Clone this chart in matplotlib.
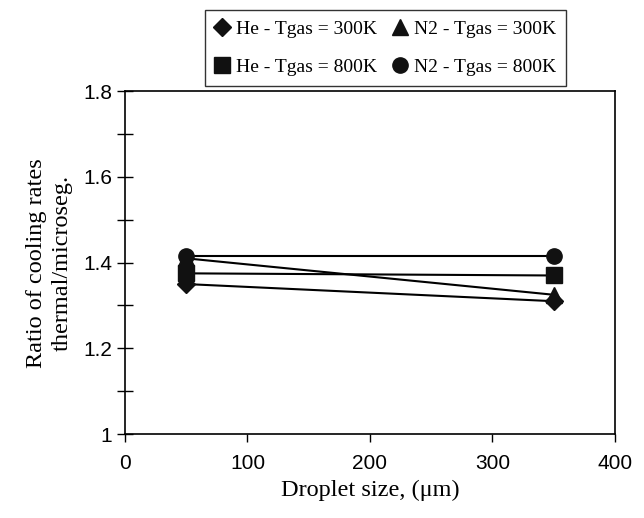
import matplotlib
matplotlib.use('Agg')
import matplotlib.pyplot as plt
from matplotlib.ticker import MultipleLocator

# droplet sizes (um)
sizes = [50, 350]

# ratio of cooling rates, thermal / microsegregation
he_300 = [1.35, 1.31]
he_800 = [1.375, 1.37]
n2_300 = [1.41, 1.325]
n2_800 = [1.415, 1.415]

labels = ['He - Tgas = 300K', 'He - Tgas = 800K',
          'N2 - Tgas = 300K', 'N2 - Tgas = 800K']
markers = ['D', 's', '^', 'o']

fig = plt.figure(figsize=(6.44, 5.18), dpi=100)
ax = fig.add_axes([0.194, 0.162, 0.761, 0.662])

series = [he_300, he_800, n2_300, n2_800]
handles = []
for vals, lab, mk in zip(series, labels, markers):
    ms = 9 if mk == 'D' else 11
    h, = ax.plot(sizes, vals, color='black', linewidth=1.5, marker=mk,
                 markersize=ms, markerfacecolor='#111111', markeredgecolor='#111111',
                 label=lab)
    handles.append(h)

ax.set_xlim(0, 400)
ax.set_ylim(1.0, 1.8)
ax.xaxis.set_major_locator(MultipleLocator(100))
ax.yaxis.set_minor_locator(MultipleLocator(0.1))
ax.set_yticks([1.0, 1.2, 1.4, 1.6, 1.8])
ax.set_yticklabels(['1', '1.2', '1.4', '1.6', '1.8'])

# tick labels in a sans face, the rest in serif, like the original
for lbl in ax.get_xticklabels() + ax.get_yticklabels():
    lbl.set_fontfamily('Liberation Sans')
    lbl.set_fontsize(15)
ax.tick_params(axis='x', direction='out', length=6, width=1, pad=8)
ax.tick_params(axis='y', which='both', direction='inout', length=12, width=1, pad=3)
for sp in ax.spines.values():
    sp.set_linewidth(1.2)

ax.set_xlabel('Droplet size, (\u03bcm)', family='Liberation Serif', fontsize=17.5, labelpad=5)
ax.set_ylabel('Ratio of cooling rates\nthermal/microseg.', family='Liberation Serif',
              fontsize=17.5, labelpad=8, linespacing=1.3)

leg = ax.legend(handles=handles, loc='lower center', bbox_to_anchor=(0.532, 1.005),
                ncol=2, frameon=True, fancybox=False, edgecolor='black',
                prop={'family': 'Liberation Serif', 'size': 14},
                handlelength=0.7, handletextpad=0.4, columnspacing=0.8,
                labelspacing=1.05, borderpad=0.5, borderaxespad=0.2)
leg.get_frame().set_linewidth(1.0)
for ln in leg.get_lines():
    ln.set_linestyle('none')

fig.savefig('out.png', dpi=100, facecolor='white')
